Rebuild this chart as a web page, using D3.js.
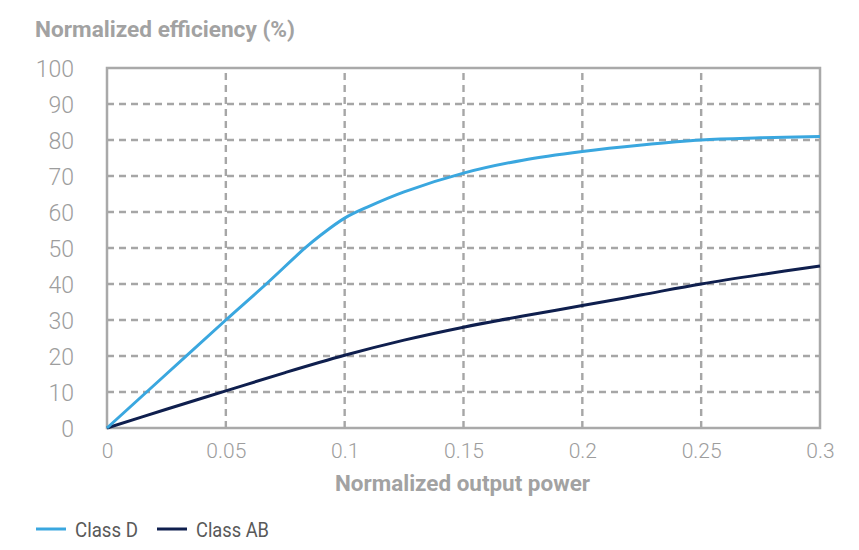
<!DOCTYPE html>
<html><head><meta charset="utf-8">
<script src="https://cdn.jsdelivr.net/npm/d3@7"></script>
<style>
html,body{margin:0;padding:0;background:#fff;}
text{font-family:"Roboto","Liberation Sans",sans-serif;}
</style></head>
<body><svg id="chart" width="859" height="550"></svg>
<script>
const xTicks = [0, 0.05, 0.1, 0.15, 0.2, 0.25, 0.3];
const xTickLabels = ["0", "0.05", "0.1", "0.15", "0.2", "0.25", "0.3"];
const yTicks = [0, 10, 20, 30, 40, 50, 60, 70, 80, 90, 100];
const powerD = [0, 0.025, 0.05, 0.067, 0.083, 0.09, 0.1, 0.11, 0.125, 0.15, 0.175, 0.2, 0.225, 0.25, 0.275, 0.3];
const classD = [0, 15, 30, 40, 49.8, 53.6, 58.3, 61.5, 65.6, 70.8, 74.4, 76.8, 78.6, 80, 80.6, 81];
const powerAB = [0, 0.025, 0.05, 0.075, 0.1, 0.125, 0.15, 0.175, 0.2, 0.225, 0.25, 0.275, 0.3];
const classAB = [0, 5.2, 10.3, 15.4, 20.2, 24.4, 28, 31.1, 34, 37, 40, 42.6, 45];
const seriesNames = ["Class D", "Class AB"];
const seriesColors = ["#3aa7df", "#0f1f4e"];

const svg = d3.select("#chart");
const x = d3.scaleLinear().domain([0, 0.3]).range([107, 820]);
const y = d3.scaleLinear().domain([0, 100]).range([428, 68]);

// gridlines
const grid = svg.append("g");
grid.selectAll("line.h").data(yTicks.slice(1, -1)).join("line")
  .attr("x1", x(0)).attr("x2", x(0.3)).attr("y1", d => y(d)).attr("y2", d => y(d))
  .attr("stroke", "#a6a6a6").attr("stroke-width", 2.4).attr("stroke-dasharray", "7,5");
grid.selectAll("line.v").data(xTicks.slice(1, -1)).join("line")
  .attr("y1", y(0)).attr("y2", y(100)).attr("x1", d => x(d)).attr("x2", d => x(d))
  .attr("stroke", "#a6a6a6").attr("stroke-width", 2.4).attr("stroke-dasharray", "7,5");

// frame
svg.append("rect").attr("x", x(0)).attr("y", y(100))
  .attr("width", x(0.3) - x(0)).attr("height", y(0) - y(100))
  .attr("fill", "none").attr("stroke", "#a9a9a9").attr("stroke-width", 2.5);

// axes labels
const yAxis = d3.axisLeft(y).tickValues(yTicks).tickSize(0).tickPadding(33);
const gy = svg.append("g").attr("transform", `translate(${x(0)},0)`).call(yAxis);
gy.select(".domain").remove();
gy.selectAll("text").attr("fill", "#9d9d9d").attr("font-size", 23).attr("font-weight", 300).attr("dy", "0.35em");

const xAxis = d3.axisBottom(x).tickValues(xTicks).tickFormat((d, i) => xTickLabels[i]).tickSize(0).tickPadding(15);
const gx = svg.append("g").attr("transform", `translate(0,${y(0)})`).call(xAxis);
gx.select(".domain").remove();
gx.selectAll("text").attr("fill", "#9d9d9d").attr("font-size", 21).attr("font-weight", 300).attr("dy", "0.71em");

// lines
const line = d3.line().x(d => x(d[0])).y(d => y(d[1])).curve(d3.curveCatmullRom.alpha(0.5));
const dataD = powerD.map((p, i) => [p, classD[i]]);
const dataAB = powerAB.map((p, i) => [p, classAB[i]]);
svg.append("path").datum(dataAB).attr("d", line).attr("fill", "none")
  .attr("stroke", seriesColors[1]).attr("stroke-width", 3);
svg.append("path").datum(dataD).attr("d", line).attr("fill", "none")
  .attr("stroke", seriesColors[0]).attr("stroke-width", 3);

// titles
svg.append("text").attr("x", 35).attr("y", 37).text("Normalized efficiency (%)")
  .attr("font-weight", "bold").attr("font-size", 22).attr("fill", "#a2a2a2")
  .attr("textLength", 260).attr("lengthAdjust", "spacingAndGlyphs");
svg.append("text").attr("x", 335).attr("y", 491)
  .text("Normalized output power")
  .attr("font-weight", "bold").attr("font-size", 22).attr("fill", "#a2a2a2")
  .attr("textLength", 255).attr("lengthAdjust", "spacingAndGlyphs");

// legend
const legendX = [36, 157];
const legendW = [63, 73];
seriesNames.forEach((n, i) => {
  const g = svg.append("g").attr("transform", `translate(${legendX[i]},529)`);
  g.append("line").attr("x1", 0).attr("x2", 30).attr("y1", 0).attr("y2", 0)
    .attr("stroke", seriesColors[i]).attr("stroke-width", 3);
  g.append("text").attr("x", 39).attr("y", 8).text(n)
    .attr("font-size", 21).attr("fill", "#595959")
    .attr("textLength", legendW[i]).attr("lengthAdjust", "spacingAndGlyphs");
});
</script></body></html>
